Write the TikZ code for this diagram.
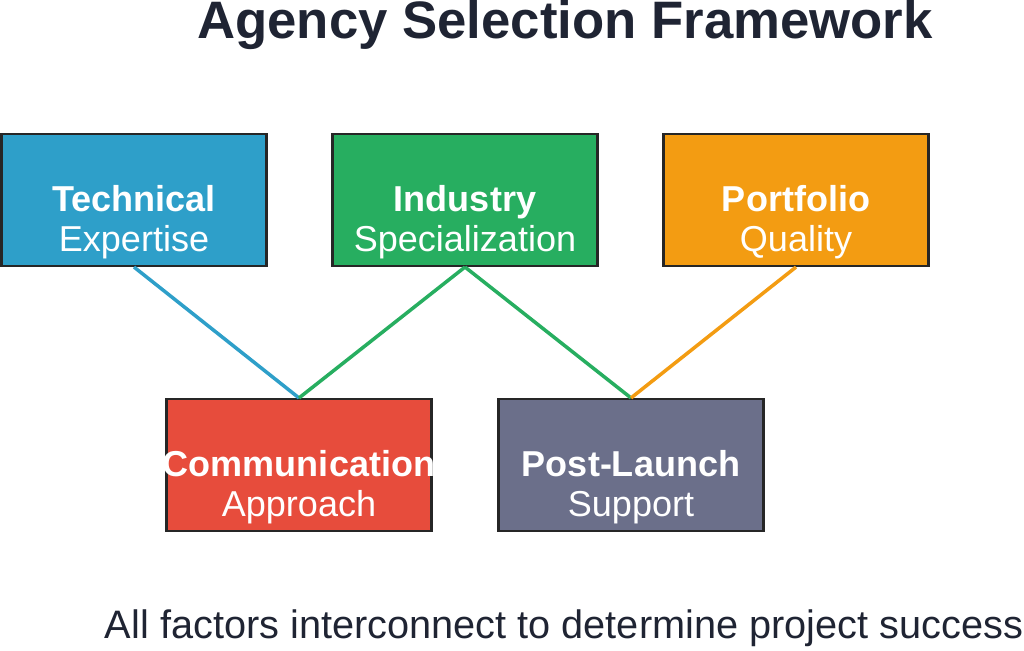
\documentclass[tikz,border=0pt]{standalone}
\usepackage{fontspec}
\setmainfont{Liberation Sans}
\begin{document}
\begin{tikzpicture}[x=0.02cm,y=-0.02cm,
  box/.style={draw=black!85,line width=1.2pt,minimum width=265*0.02cm,minimum height=132*0.02cm,inner sep=0pt},
  lbl/.style={text=white,align=center,font=\fontsize{20.5}{23}\selectfont},
  link/.style={line width=2pt}]
\useasboundingbox (0,0) rectangle (1024,651);
\definecolor{cb}{HTML}{2E9FC9}\definecolor{cg}{HTML}{27AE60}\definecolor{co}{HTML}{F39C12}
\definecolor{cr}{HTML}{E74C3C}\definecolor{cs}{HTML}{6B6F8A}\definecolor{tx}{HTML}{1F2433}
\node[text=tx,font=\bfseries\fontsize{30}{34}\selectfont] (title) at (565,25) {Agency Selection Framework};
\node[box,fill=cb] (tech) at (134,200) {};
\node[box,fill=cg] (ind) at (465,200) {};
\node[box,fill=co] (port) at (796,200) {};
\node[box,fill=cr] (comm) at (299,465) {};
\node[box,fill=cs] (post) at (631,465) {};
\node[lbl] (t1) at (134,222) {\textbf{Technical}\\Expertise};
\node[lbl] (t2) at (465,222) {\textbf{Industry}\\Specialization};
\node[lbl] (t3) at (796,222) {\textbf{Portfolio}\\Quality};
\node[lbl] (t4) at (299,487) {\textbf{Communication}\\Approach};
\node[lbl] (t5) at (631,487) {\textbf{Post-Launch}\\Support};
\draw[link,cb] (tech.south) -- (comm.north);
\draw[link,cg] (ind.south) -- (comm.north);
\draw[link,cg] (ind.south) -- (post.north);
\draw[link,co] (port.south) -- (post.north);
\node[text=tx,font=\fontsize{22.6}{26}\selectfont] (foot) at (564,628) {All factors interconnect to determine project success};
\end{tikzpicture}
\end{document}
